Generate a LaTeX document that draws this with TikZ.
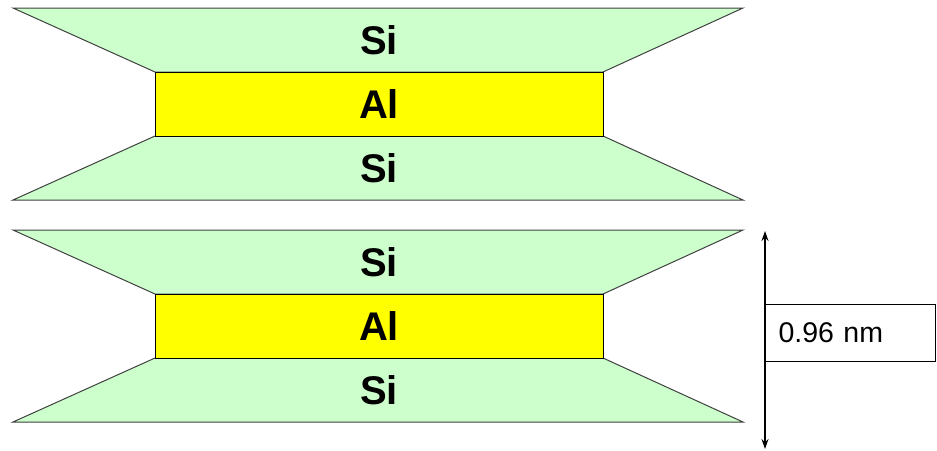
\documentclass[tikz,border=0pt]{standalone}
\usepackage{fontspec}
\setmainfont{Liberation Sans}
\usetikzlibrary{arrows.meta}
\definecolor{sigreen}{HTML}{CCFFCC}
\definecolor{alyellow}{HTML}{FFFF00}
\tikzset{
  sishape/.style={fill=sigreen, draw=black!75, line width=1pt, line join=miter},
  alshape/.style={fill=alyellow, draw=black, line width=1pt},
  layerlabel/.style={font=\fontsize{40}{44}\selectfont\bfseries, inner sep=0pt},
  dimarrow/.style={line width=1.5pt, {Stealth[length=10pt,width=7pt]}-{Stealth[length=10pt,width=7pt]}},
  dimbox/.style={draw=black, line width=1pt, fill=white, minimum height=57pt, text width=144pt, inner xsep=13pt, align=left, font=\fontsize{28.5}{31}\selectfont}
}
\begin{document}
\begin{tikzpicture}[x=1pt,y=-1pt]
\useasboundingbox (0,0) rectangle (937,450);
% upper stack
\path[sishape] (13,8) -- (743,8) -- (603,72) -- (155,72) -- cycle;
\path[sishape] (155,136) -- (603,136) -- (743,200) -- (13,200) -- cycle;
\path[alshape] (155,72) rectangle (603,136);
\node[layerlabel] (si1) at (379,40) {Si};
\node[layerlabel] (al1) at (379,104) {Al};
\node[layerlabel] (si2) at (379,168) {Si};
% lower stack
\path[sishape] (13,230) -- (743,230) -- (603,294) -- (155,294) -- cycle;
\path[sishape] (155,358) -- (603,358) -- (743,422) -- (13,422) -- cycle;
\path[alshape] (155,294) rectangle (603,358);
\node[layerlabel] (si3) at (379,262) {Si};
\node[layerlabel] (al2) at (379,326) {Al};
\node[layerlabel] (si4) at (379,390) {Si};
% dimension
\coordinate (dtop) at (765,231);
\coordinate (dbot) at (765,449);
\draw[dimarrow] (dtop) -- (dbot);
\node[dimbox, anchor=west] (dim) at (765,332.5) {0.96 nm};
\end{tikzpicture}
\end{document}
